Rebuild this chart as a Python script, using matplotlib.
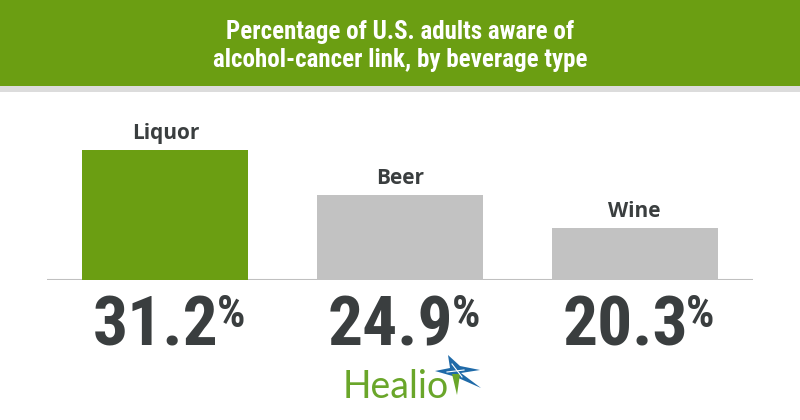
import matplotlib.pyplot as plt
from matplotlib.patches import Polygon, Rectangle
import matplotlib.transforms as mtransforms

# data
categories = ['Liquor', 'Beer', 'Wine']
values = [31.2, 24.9, 20.3]
value_labels = ['31.2', '24.9', '20.3']
title_lines = ['Percentage of U.S. adults aware of', 'alcohol-cancer link, by beverage type']

GREEN = '#6b9e12'
GRAY = '#c2c2c2'
DARK = '#3a3e3f'
bar_colors = [GREEN, GRAY, GRAY]

fig = plt.figure(figsize=(8, 4.2), dpi=100)
W, H = 800, 420

# header band
fig.add_artist(Rectangle((0, 1 - 86 / H), 1, 86 / H, transform=fig.transFigure,
                         facecolor=GREEN, edgecolor='none'))
fig.add_artist(Rectangle((0, 1 - 92 / H), 1, 6 / H, transform=fig.transFigure,
                         facecolor='#dcdcdc', edgecolor='none'))
cond_font = ['Roboto Condensed', 'Roboto', 'DejaVu Sans']
fig.text(0.5, 1 - 39.5 / H, title_lines[0], ha='center', va='baseline', color='white',
         fontsize=18, fontweight='bold', family=cond_font)
fig.text(0.5, 1 - 67 / H, title_lines[1], ha='center', va='baseline', color='white',
         fontsize=18, fontweight='bold', family=cond_font)

# bars
ax = fig.add_axes([47 / W, (H - 280) / H, 706 / W, 180 / H])
x = range(len(categories))
ax.bar(x, values, width=0.708, color=bar_colors, zorder=2)
ax.set_xlim(-0.505, 2.505)
ax.set_ylim(13, 38.2)
ax.axhline(13, color='#c0c0c0', lw=1.5, zorder=1)
ax.set_axis_off()

for i, (cat, v) in enumerate(zip(categories, values)):
    ax.annotate(cat, xy=(i, v), xytext=(0, 8), textcoords='offset points',
                ha='center', va='baseline', fontsize=15, fontweight='bold',
                color=DARK, family=['Open Sans', 'DejaVu Sans'])

# big value labels under bars, with a raised % sign
trans = mtransforms.blended_transform_factory(ax.transData, fig.transFigure)
num_size, pct_size = 50, 32
base_px = H - 345
renderer = fig.canvas.get_renderer()
for i, lab in enumerate(value_labels):
    t = ax.text(i - 0.04, base_px / H, lab, transform=trans, ha='center',
                va='baseline', fontsize=num_size, fontweight='bold', color=DARK,
                family=cond_font)
    bb = t.get_window_extent(renderer)
    lift = 0.711 * (num_size - pct_size) * 100 / 72
    fig.text((bb.x1 - 2) / W, (base_px + lift) / H, '%', ha='left', va='baseline',
             fontsize=pct_size, fontweight='heavy', color=DARK, family=cond_font)

# Healio logo
fig.text(343 / W, (H - 398) / H, 'Healio', ha='left', va='baseline', fontsize=27,
         color='#6aa62a', family=['Lato', 'DejaVu Sans'])
lax = fig.add_axes([434 / W, (H - 400) / H, 48 / W, 46 / H])
lax.set_xlim(0, 48)
lax.set_ylim(0, 46)
lax.set_axis_off()
cx, cy = 21, 29
star = [(14, 45), (cx + 5, cy + 5), (46, 30), (cx + 6, cy - 2), (47, 12),
        (cx + 1, cy - 6), (1, 29), (cx - 5, cy + 3)]
lax.add_patch(Polygon(star, closed=True, facecolor='#1f6aa8', edgecolor='none'))
lax.add_patch(Polygon([(cx - 3, cy - 3), (cx + 5, cy - 3), (23, 5)], closed=True,
                      facecolor='#6aa62a', edgecolor='none'))
lax.plot([cx - 3, cx + 7], [cy + 7, cy - 6], color='white', lw=0.8)
lax.plot([cx - 8, cx + 9], [cy - 1, cy + 1], color='white', lw=0.8)

fig.savefig('out.png', dpi=100, facecolor='white')
